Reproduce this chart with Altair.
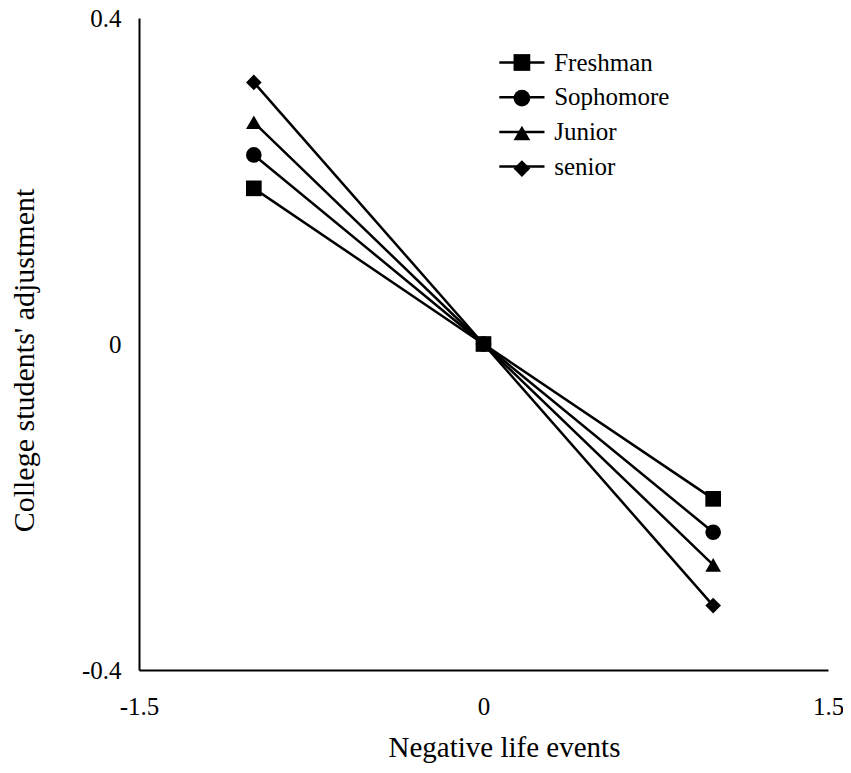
import altair as alt
import pandas as pd

grades = ["Freshman", "Sophomore", "Junior", "senior"]
x_levels = [-1, 0, 1]
y_low_nle = [0.191, 0.232, 0.272, 0.321]    # at x = -1
y_mid_nle = [0.0, 0.0, 0.0, 0.0]            # at x = 0
y_high_nle = [-0.190, -0.231, -0.271, -0.321]  # at x = 1

rows = []
for i, g in enumerate(grades):
    for xv, yv in zip(x_levels, [y_low_nle[i], y_mid_nle[i], y_high_nle[i]]):
        rows.append({"grade": g, "x": xv, "y": yv})
df = pd.DataFrame(rows)

FONT = "Liberation Serif"
W, H = 689, 652
LEFT, TOP = 131, 10
SHAPES = ["square", "circle", "triangle-up", "diamond"]

label_expr = ("datum.value == 0 ? '0' : (datum.value < 0 ? '-' + format(-datum.value, '.1f')"
              " : format(datum.value, '.1f'))")

x_enc = alt.X("x:Q",
              scale=alt.Scale(domain=[-1.5, 1.5], nice=False, zero=False),
              axis=alt.Axis(values=[-1.5, 0, 1.5], labelExpr=label_expr, grid=False, ticks=False,
                            domainColor="black", domainWidth=2, labelFont=FONT, labelFontSize=25,
                            labelColor="black", labelPadding=24, labelFlush=False, labelOverlap=False,
                            title="Negative life events", titleFont=FONT, titleFontSize=29,
                            titleFontWeight="normal", titleColor="black", titleX=365, titleY=77,
                            titleAlign="center", titleBaseline="middle"))
y_enc = alt.Y("y:Q",
              scale=alt.Scale(domain=[-0.4, 0.4], nice=False, zero=False),
              axis=alt.Axis(values=[-0.4, 0, 0.4], labelExpr=label_expr, grid=False, ticks=False,
                            domainColor="black", domainWidth=2, labelFont=FONT, labelFontSize=25,
                            labelColor="black", labelPadding=18, labelFlush=False, labelOverlap=False,
                            title="College students' adjustment", titleFont=FONT, titleFontSize=30,
                            titleFontWeight="normal", titleColor="black", titleX=-115, titleY=342,
                            titleAlign="center", titleBaseline="middle", titleAngle=270))

base = alt.Chart(df)

lines = base.mark_line(color="black", strokeWidth=2.5).encode(
    x=x_enc, y=y_enc, detail="grade:N", order="x:Q")

points = base.mark_point(filled=True, color="black", opacity=1, size=245).encode(
    x="x:Q", y="y:Q",
    shape=alt.Shape("grade:N", scale=alt.Scale(domain=grades, range=SHAPES), legend=None))

common_legend = dict(title=None, orient="none", legendX=370.4, legendY=32, padding=0,
                     symbolSize=280, symbolOpacity=1, symbolStrokeWidth=2.5,
                     labelFont=FONT, labelFontSize=25, labelColor="black",
                     labelOffset=19.8, rowPadding=8.7, labelLimit=300)

# legend part 1: the horizontal line through each key, with the labels
legend_lines = base.mark_point(filled=False, color="black", strokeWidth=2.5, opacity=0, size=225).encode(
    x="x:Q", y="y:Q",
    shape=alt.Shape("grade:N",
                    scale=alt.Scale(domain=grades, range=["M-2.7,0H2.7"] * 4),
                    legend=alt.Legend(symbolStrokeColor="black", **common_legend)))

# legend part 2: the filled marker of each key (its labels are blank; part 1 draws them)
legend_shapes = base.mark_point(filled=True, color="black", opacity=0, size=225).encode(
    x="x:Q", y="y:Q",
    shape=alt.Shape("grade:N",
                    scale=alt.Scale(domain=grades, range=SHAPES),
                    legend=alt.Legend(symbolFillColor="black", labelExpr="' '", **common_legend)))

chart = alt.layer(lines, points, legend_lines, legend_shapes).resolve_scale(
    shape="independent").properties(
    width=W, height=H,
    autosize=alt.AutoSizeParams(type="none"),
    padding={"left": LEFT, "top": TOP, "right": 15, "bottom": 95},
    background="white",
).configure_view(stroke=None)

chart.save("out.html", embed_options={"renderer": "svg", "actions": False})
